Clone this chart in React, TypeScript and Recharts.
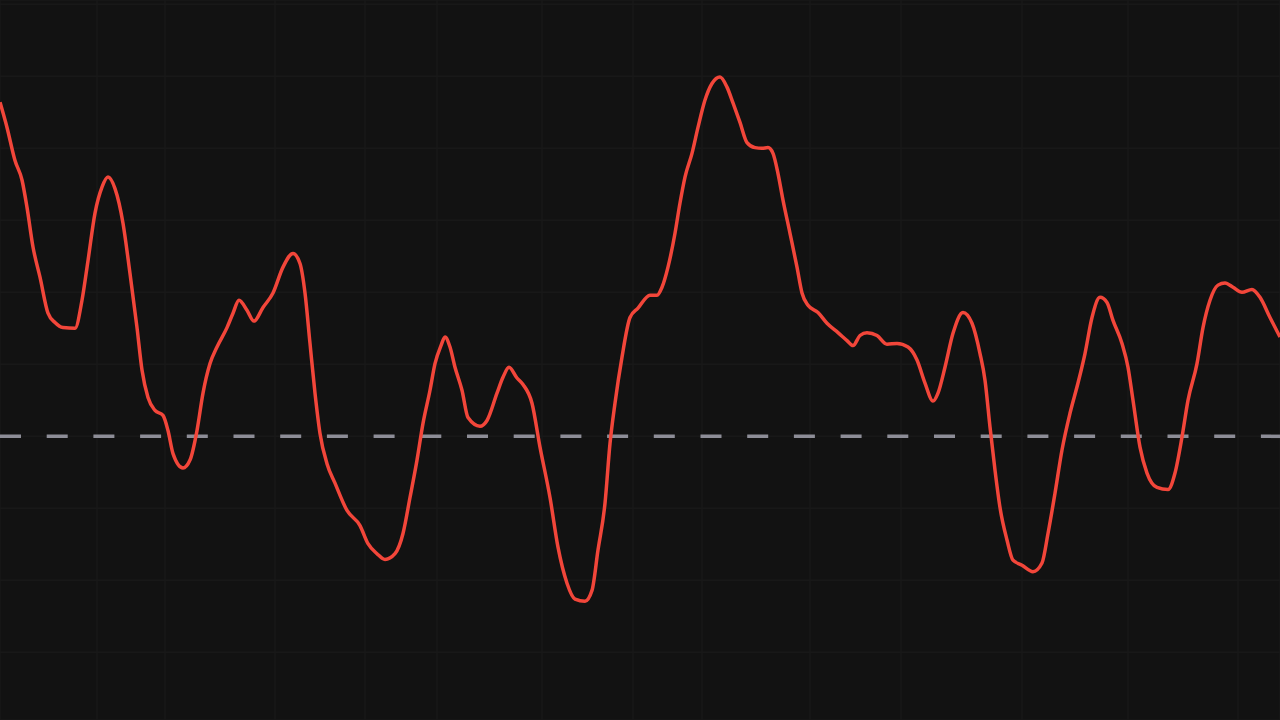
import React from 'react'
import { LineChart, Line, XAxis, YAxis, CartesianGrid, ReferenceLine } from 'recharts'

// sample times (arbitrary units) and the signal
const times = [
  0, 0.7, 1.5, 2.2, 2.7, 3.3, 4.0, 4.8, 5.5, 6.3, 7.5, 8.2, 8.8, 9.5, 10.2, 10.8, 11.5, 12.3, 13.0, 13.7,
  14.2, 14.8, 15.5, 16.3, 16.8, 17.3, 18.3, 19.0, 19.7, 20.3, 21.0, 21.7, 22.7, 23.3, 23.9, 24.7, 25.4, 26.3, 27.3, 28.3,
  29.3, 30.0, 30.5, 31.0, 31.5, 32.0, 32.7, 33.5, 34.7, 36.0, 36.8, 37.7, 38.5, 39.5, 40.3, 41.0, 41.7, 42.3, 43.0, 43.5,
  44.1, 44.5, 45.0, 45.5, 46.2, 46.8, 48.0, 48.7, 49.7, 50.3, 50.9, 51.7, 52.3, 53.2, 54.0, 55.0, 55.8, 56.7, 57.5, 58.5,
  59.2, 59.8, 60.5, 61.0, 61.5, 62.2, 63.0, 63.8, 65.0, 65.7, 66.2, 66.8, 67.5, 68.0, 68.5, 69.2, 69.8, 70.5, 71.2, 72.0,
  72.7, 73.3, 74.0, 74.7, 75.5, 76.2, 76.8, 77.3, 77.8, 78.3, 79.0, 79.7, 80.2, 80.8, 81.8, 82.7, 83.8, 84.7, 85.3, 86.0,
  86.7, 87.7, 88.7, 89.7, 90.8, 91.7, 92.5, 93.3, 93.8, 94.5, 95.3, 96.3, 97.2, 98.0, 98.5, 99.0, 99.5, 100.0, 100.7, 101.3,
  102.2, 103.3, 104.2, 104.8, 105.5, 106.2, 107.0, 107.8, 108.5, 109.2, 110.0, 110.7, 111.3, 112.2, 112.8, 113.3, 114.0, 114.7, 115.7, 116.8,
  117.5, 118.2, 118.8, 119.7, 120.3, 121.0, 121.8, 122.5, 123.3, 124.2, 125.2, 126.0, 127.0, 128.0,
]

const values = [
  46.4, 42.9, 38.3, 35.6, 31.8, 26.3, 22.1, 17.1, 15.8, 15.1, 15.0, 18.9, 24.4, 31.0, 34.6, 36.0, 34.4, 29.6, 22.6, 15.1,
  9.2, 5.4, 3.6, 2.9, 0.8, -2.4, -4.4, -3.3, 0.8, 6.0, 10.1, 12.4, 15.1, 17.1, 18.9, 17.5, 16.0, 17.9, 19.9, 23.5,
  25.4, 24.0, 19.9, 12.9, 6.0, 0.4, -3.8, -6.5, -10.3, -12.4, -14.9, -16.3, -17.1, -16.3, -13.5, -8.5, -3.3, 1.8, 6.4, 10.1,
  12.6, 13.8, 12.4, 9.6, 6.4, 2.6, 1.4, 2.2, 6.0, 8.2, 9.6, 8.1, 7.2, 4.6, -1.5, -8.5, -15.4, -20.4, -22.6, -22.9,
  -21.4, -15.8, -9.3, -1.0, 4.6, 11.0, 16.5, 17.8, 19.6, 19.6, 20.7, 23.5, 28.2, 32.4, 36.0, 39.3, 42.9, 46.7, 49.0, 49.9,
  48.5, 46.3, 43.6, 40.8, 40.1, 40.0, 40.1, 39.3, 36.5, 32.8, 28.2, 23.5, 19.9, 18.2, 17.2, 15.7, 14.4, 13.3, 12.6, 14.0,
  14.4, 14.0, 12.8, 12.9, 12.4, 10.6, 7.4, 4.9, 6.0, 9.6, 14.3, 17.2, 15.7, 11.5, 7.8, 1.3, -4.7, -9.9, -14.4, -17.2,
  -17.9, -18.8, -17.6, -13.5, -7.9, -1.9, 3.2, 7.4, 11.5, 16.5, 19.3, 18.6, 16.1, 12.9, 9.6, 5.0, -1.5, -5.1, -7.1, -7.4,
  -5.1, -0.1, 5.0, 10.1, 15.1, 18.9, 21.0, 21.3, 20.7, 20.0, 20.4, 19.3, 16.5, 13.8,
]

// faint vertical grid marks along the time axis
const timeTicks = [0.6, 9.7, 16.5, 27.5, 36.5, 43.7, 54.2, 63.3, 70.2, 81.0, 90.1, 102.2, 112.8, 123.8]
const valueTicks = [-30, -20, -10, 0, 10, 20, 30, 40, 50, 60]

const data = times.map((t, i) => ({ t, value: values[i] }))

export default function App() {
  return (
    <div style={{ position: 'absolute', left: 0, top: 0, width: 1280, height: 720, background: '#121212' }}>
      <LineChart width={1280} height={720} data={data} margin={{ top: 0, right: 0, bottom: 0, left: 0 }}>
        <CartesianGrid stroke="#181818" strokeWidth={1.5} />
        <XAxis type="number" dataKey="t" domain={[0, 128]} ticks={timeTicks} hide />
        <YAxis type="number" domain={[-39.4, 60.6]} ticks={valueTicks} hide />
        <ReferenceLine y={0} stroke="#8d8d97" strokeWidth={3.5} strokeDasharray="21 25.7" />
        <Line
          type="monotone"
          dataKey="value"
          stroke="#f2463a"
          strokeWidth={3.5}
          dot={false}
          activeDot={false}
          isAnimationActive={false}
        />
      </LineChart>
    </div>
  )
}
